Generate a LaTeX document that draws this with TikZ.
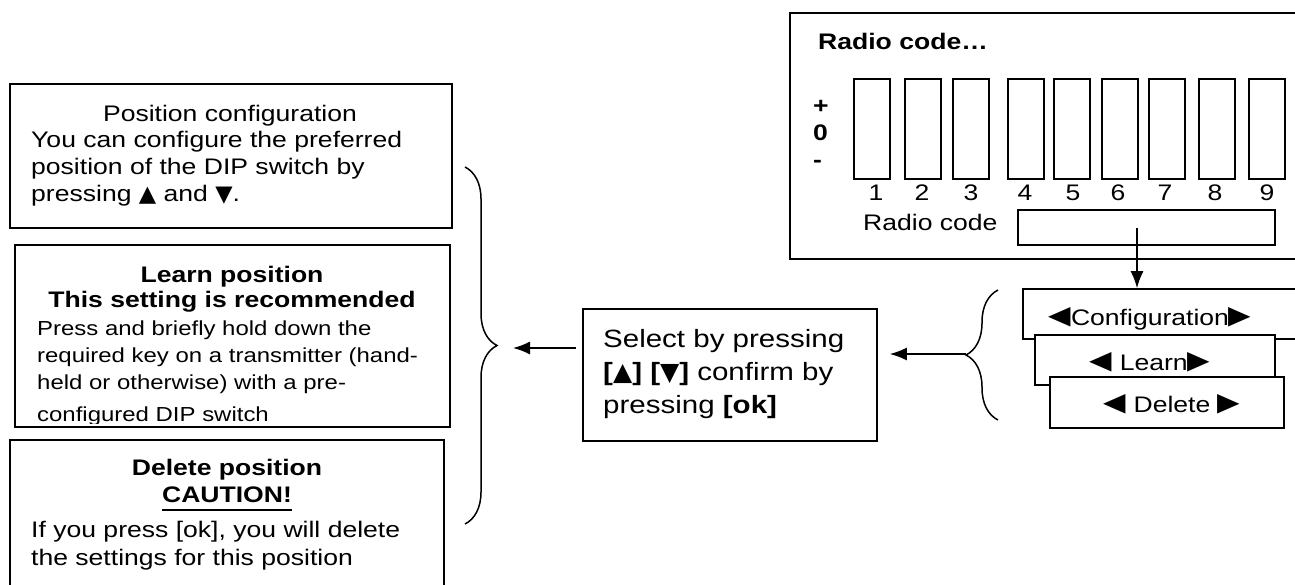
\documentclass[tikz,border=0pt]{standalone}
\usepackage{graphicx}
\usepackage{fontspec}
\setmainfont{Liberation Sans}[FakeStretch=1.18]
\newfontfamily\symfont{DejaVu Sans}
\newcommand\arrup{{\symfont ▲}}
\newcommand\arrdn{{\symfont ▼}}
\newcommand\arrlt{\raisebox{-2.7pt}{\scalebox{1.3}[1.75]{\symfont ◄}}}
\newcommand\arrrt{\raisebox{-2.7pt}{\scalebox{1.3}[1.75]{\symfont ►}}}
\usetikzlibrary{arrows.meta,decorations.pathreplacing}
\begin{document}
\begin{tikzpicture}[x=1pt, y=-1pt, >={Latex[length=17pt,width=13pt]},
	box/.style={draw, line width=1.6pt, fill=white, inner sep=0pt},
	txt/.style={inner sep=0pt, font=\fontsize{22.5}{27}\selectfont},
	small/.style={inner sep=0pt, font=\fontsize{20.3}{27}\selectfont},
	bold/.style={inner sep=0pt, font=\fontsize{22.5}{27}\selectfont\bfseries},
	big/.style={inner sep=0pt, font=\fontsize{25}{33}\selectfont},
	curly/.style={decorate, decoration={brace, amplitude=32pt}, line width=1.5pt}]
	\clip (0,0) rectangle (1295,584);

	\node[box, minimum width=442pt, minimum height=144pt] (posbox) at (231,156) {};
	\node[txt, anchor=base] (poshead) at (230,121) {Position configuration};
	\node[txt, anchor=base west, align=left] (postext) at (31,201) {You can configure the preferred\\position of the DIP switch by\\pressing \arrup\ and \arrdn.};

	\node[box, minimum width=435pt, minimum height=182pt] (lrnbox) at (232.5,336) {};
	\node[bold, anchor=base] (lrnhead) at (232,282) {Learn position};
	\node[bold, anchor=base] (lrnsub) at (232,307) {This setting is recommended};
	\begin{scope}
		\clip (lrnbox.north west) rectangle ([yshift=4pt]lrnbox.south east);
		\node[small, anchor=base west, align=left] (lrntext) at (37,389) {Press and briefly hold down the\\required key on a transmitter (hand-\\held or otherwise) with a pre-};
		\node[small, anchor=base west] (lrnlast) at (37,421) {configured DIP switch};
	\end{scope}

	\node[box, minimum width=434pt, minimum height=160pt] (delbox) at (227,520) {};
	\node[bold, anchor=base] (delhead) at (227,475) {Delete position};
	\node[bold, anchor=base] (delwarn) at (227,502) {CAUTION!};
	\draw[line width=1.6pt] ([yshift=-8pt]delwarn.base west) -- ([yshift=-8pt]delwarn.base east);
	\node[txt, anchor=base west, align=left, font=\fontsize{22.5}{28}\selectfont] (deltext) at (31,565) {If you press [ok], you will delete\\the settings for this position};

	\coordinate (rbtop) at (465,167);
	\coordinate (rbbot) at (465,524);
	\draw[curly] (rbtop) -- (rbbot);
	\coordinate (lefttip) at (513,348);

	\node[box, minimum width=294pt, minimum height=132pt] (selbox) at (730,375) {};
	\node[big, anchor=base west, align=left] (seltext) at (603,413) {Select by pressing\\\textbf{[\arrup] [\arrdn]} confirm by\\pressing \textbf{[ok]}};
	\draw[->, line width=1.6pt] ([xshift=-6pt]selbox.west |- lefttip) -- (lefttip);

	\node[box, minimum width=520pt, minimum height=246pt] (radbox) at (1050,136) {};
	\node[bold, anchor=base west] (radhead) at (818,49) {Radio code…};
	\node[bold, anchor=base west, align=left] (signs) at (813,167) {+\\0\\-};
	\foreach \i/\x/\n in {1/853/876,2/904/922,3/952/971,4/1007/1025,5/1053/1073,6/1101/1118,7/1148/1165,8/1198/1215,9/1248/1267}{
		\node[box, anchor=north west, minimum width=36pt, minimum height=100pt] (sw\i) at (\x,78) {};
		\node[txt, anchor=base] (num\i) at (\n,200) {\i};
	}
	\node[txt, anchor=base west] (radlabel) at (863,230) {Radio code};
	\node[box, minimum width=257pt, minimum height=35pt] (codebox) at (1146.5,227.5) {};

	\node[box, minimum width=287pt, minimum height=50pt] (cfgbox) at (1166.5,314) {};
	\node[txt, anchor=base] (cfgtext) at (1150,325) {\arrlt Configuration\arrrt};
	\node[box, minimum width=240pt, minimum height=50pt] (lrnkey) at (1155,360) {};
	\node[txt, anchor=base] (lrnkeytext) at (1150,370) {\arrlt\ Learn\arrrt};
	\node[box, minimum width=234pt, minimum height=51pt] (delkey) at (1167,402.5) {};
	\node[txt, anchor=base] (delkeytext) at (1172,412) {\arrlt\ Delete \arrrt};

	\coordinate (codedrop) at (1137,228);
	\draw[->, line width=1.6pt] (codedrop) -- (codedrop |- cfgbox.north);

	\coordinate (kbbot) at (998,420);
	\coordinate (kbtop) at (998,290);
	\draw[curly] (kbbot) -- (kbtop);
	\coordinate (keytip) at (966,354);
	\draw[->, line width=1.6pt] (keytip) -- ([xshift=12pt]selbox.east |- keytip);
\end{tikzpicture}
\end{document}
